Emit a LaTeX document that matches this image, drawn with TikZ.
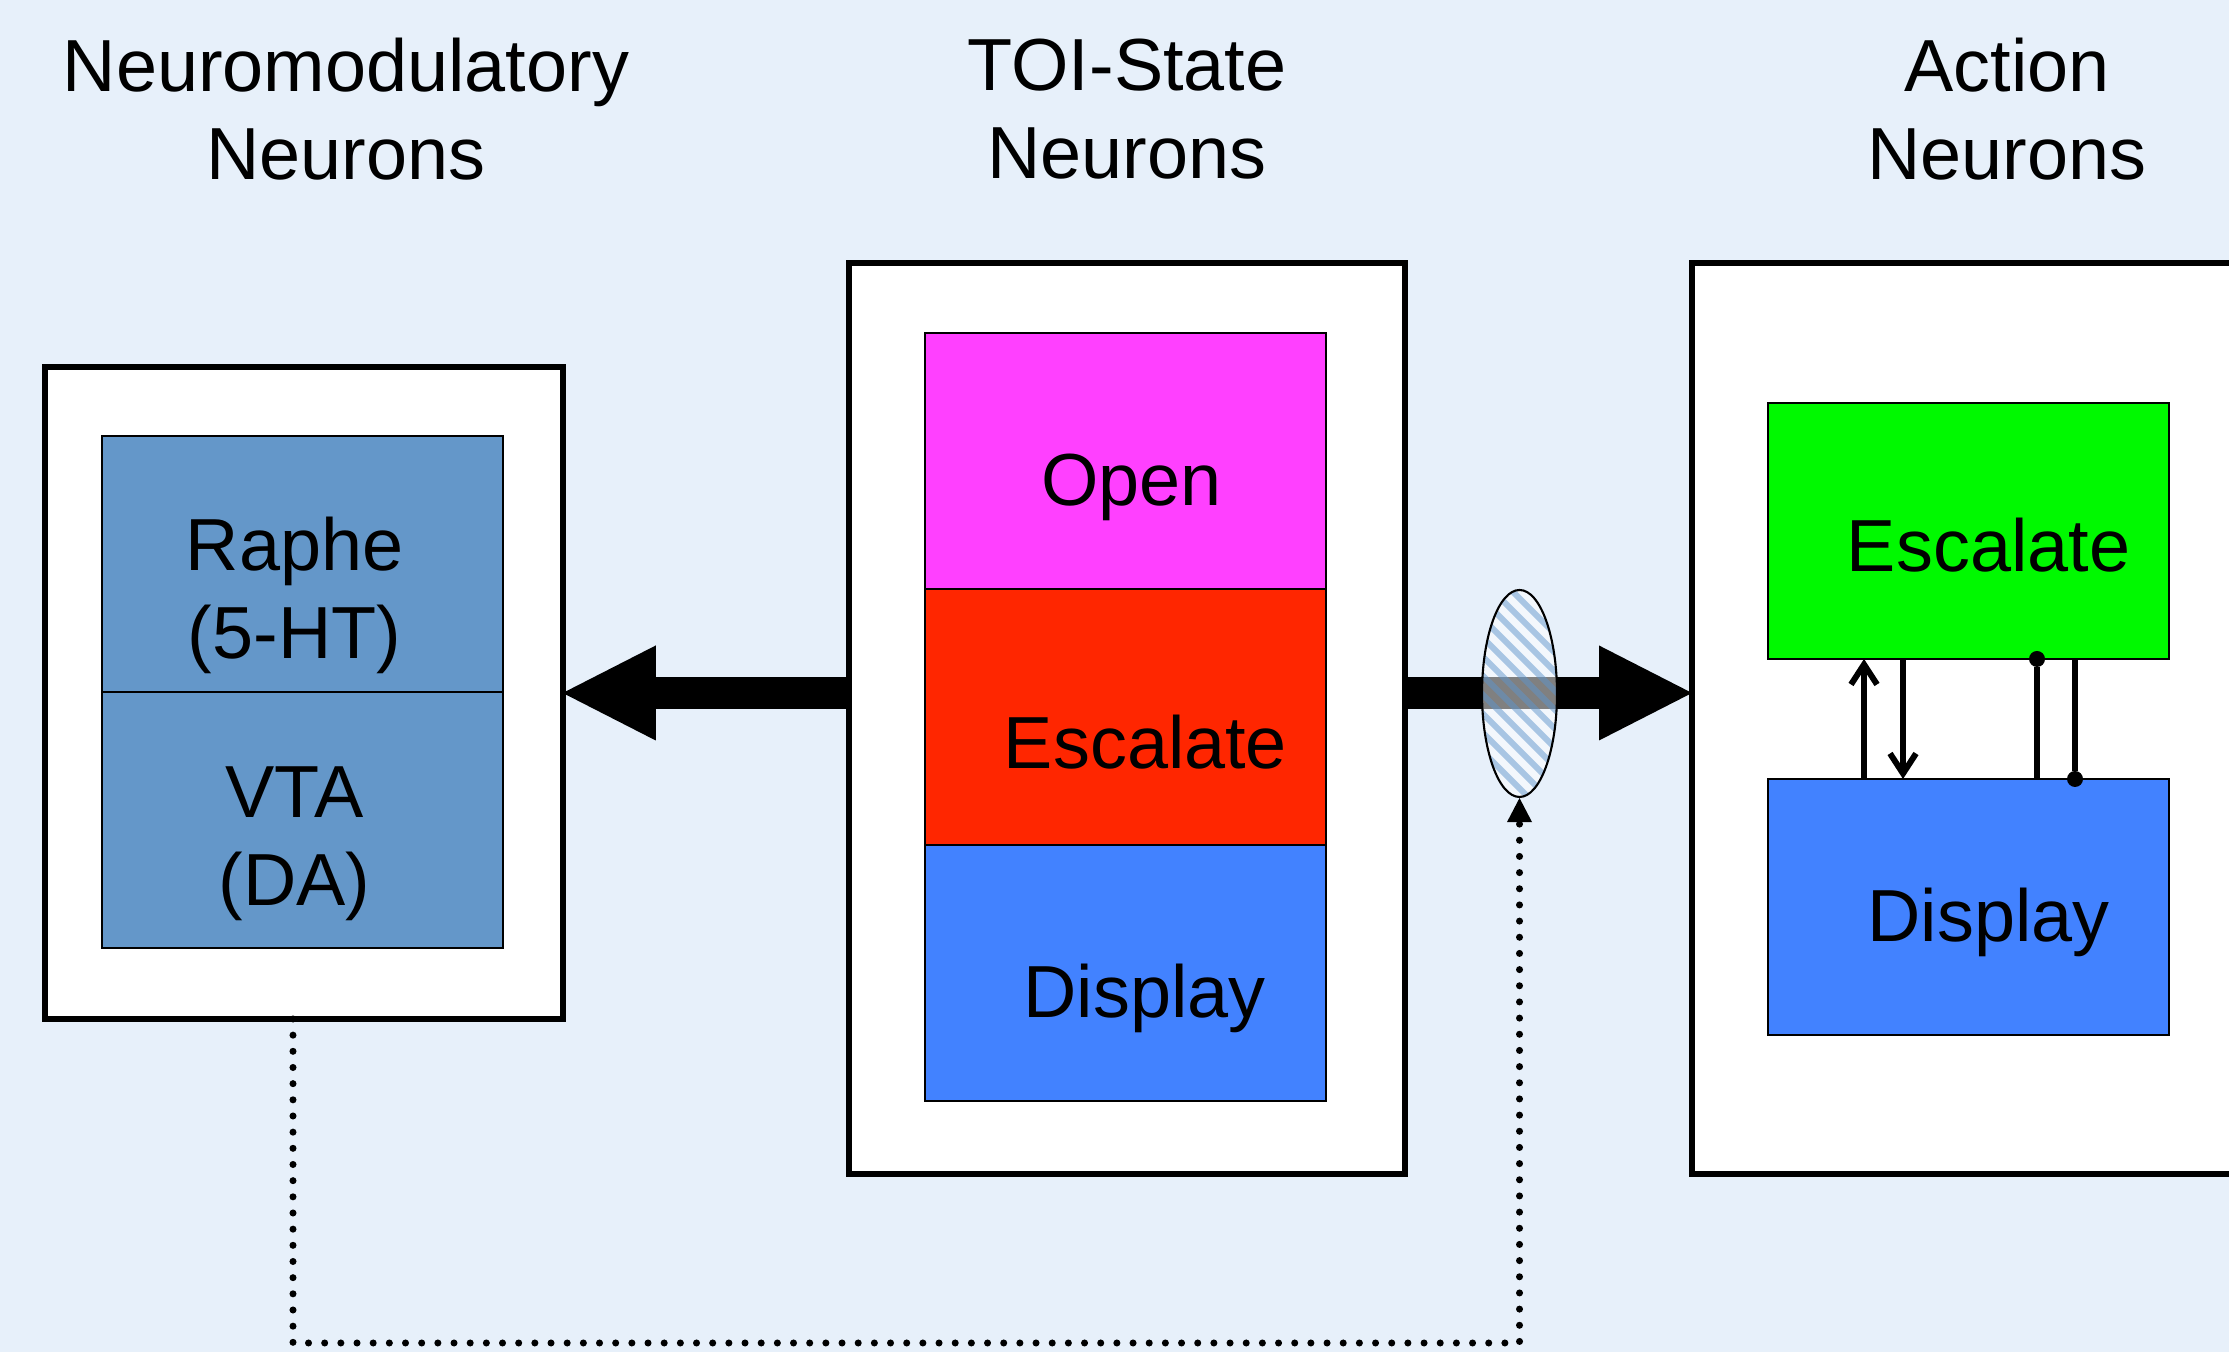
\documentclass[tikz,border=0pt]{standalone}
\usepackage{fontspec}
\setmainfont{Liberation Sans}
\usetikzlibrary{positioning,arrows.meta,shapes.geometric}
\definecolor{paper}{HTML}{E7F0FA}
\definecolor{modblue}{HTML}{6497C9}
\definecolor{openpink}{HTML}{FF40FF}
\definecolor{escred}{HTML}{FF2600}
\definecolor{dispblue}{HTML}{4282FF}
\definecolor{escgreen}{HTML}{00F900}
\definecolor{stripe}{HTML}{5E95CC}
\begin{document}
\begin{tikzpicture}[
    tag/.style = {align=center, font=\fontsize{21}{25}\selectfont},
    frame/.style = {draw, fill=white, line width=1.7pt, inner sep=0pt, outer sep=0pt},
    cell/.style 2 args = {draw, line width=0.6pt, minimum width=4.01cm, minimum height=2.56cm,
        inner sep=0pt, outer sep=0pt, label={[tag, #2]center:#1}},
    big/.style = {line width=0.32cm, -{Triangle[length=0.93cm, width=0.95cm, line width=0pt]}},
    link/.style = {line width=1.7pt},
    barb/.style = {link, -{Straight Barb[length=0.2cm, width=0.26cm]}},
    knob/.style = {link, -{Circle[length=0.16cm, line width=0pt]}, shorten >=-0.08cm},
    feedback/.style = {line width=2pt, line cap=round, dash pattern=on 0pt off 4.6pt,
        -{Triangle[length=0.24cm, width=0.25cm, line width=0pt]}},
    gate/.style = {draw, ellipse, line width=0.6pt, minimum width=0.75cm, minimum height=2.07cm,
        inner sep=0pt, fill=white, fill opacity=0.5, draw opacity=1,
        path picture={
            \foreach \k in {-1.52,-1.33,...,1.6}
                \draw[stripe, line width=1.7pt, draw opacity=0.5]
                    ([shift={(\k-1.2,1.2)}]path picture bounding box.center) -- ++(2.4,-2.4);
        }}
]

    \useasboundingbox (0,0) rectangle (22.29,13.52);
    \fill[paper] (0,0) rectangle (22.29,13.52);
    \clip (0,0) rectangle (22.29,13.52);

    \node[tag] (t1) at (3.46,12.43) {Neuromodulatory\\Neurons};
    \node[tag] (t2) at (11.27,12.43) {TOI-State\\Neurons};
    \node[tag] (t3) at (20.07,12.43) {Action\\Neurons};

    \node[frame, minimum width=5.175cm, minimum height=6.52cm] (lbox) at (3.04,6.59) {};
    \node[frame, minimum width=5.56cm, minimum height=9.11cm] (mid) at (11.27,6.335) {};
    \node[frame, minimum width=6.08cm, minimum height=9.11cm] (act) at (19.96,6.335) {};

    \node[cell={Raphe\\(5-HT)}{xshift=-0.08cm, yshift=-0.31cm}, fill=modblue] (raphe) at (3.025,7.88) {};
    \node[cell={VTA\\(DA)}{xshift=-0.08cm, yshift=-0.24cm}, fill=modblue, below=0pt of raphe] (vta) {};

    \node[cell={Open}{xshift=0.06cm, yshift=-0.26cm}, fill=openpink] (open) at (11.255,8.9075) {};
    \node[cell={Escalate}{xshift=0.2cm, yshift=-0.25cm}, fill=escred, below=0pt of open] (mesc) {};
    \node[cell={Display}{xshift=0.19cm, yshift=-0.25cm}, fill=dispblue, below=0pt of mesc] (mdisp) {};

    \node[cell={Escalate}{xshift=0.2cm, yshift=-0.14cm}, fill=escgreen] (aesc) at (19.685,8.21) {};
    \node[cell={Display}{xshift=0.2cm, yshift=-0.15cm}, fill=dispblue, below=1.2cm of aesc] (adisp) {};

    \draw[big] (mid.west |- lbox.east) -- (lbox.east);
    \draw[big] (mid.east |- lbox.east) -- (act.west |- lbox.east);
    \node[gate] (gate) at (15.195,6.585) {};

    \draw[barb] ([xshift=-1.045cm]adisp.north) -- ([xshift=-1.045cm]aesc.south);
    \draw[barb] ([xshift=-0.655cm]aesc.south) -- ([xshift=-0.655cm]adisp.north);
    \draw[knob] ([xshift=0.685cm]adisp.north) -- ([xshift=0.685cm]aesc.south);
    \draw[knob] ([xshift=1.065cm]aesc.south) -- ([xshift=1.065cm]adisp.north);

    \coordinate (floor) at (0,0.09);
    \draw[feedback] ([xshift=-0.11cm]lbox.south) |- (floor -| gate.south) -- (gate.south);

\end{tikzpicture}
\end{document}
